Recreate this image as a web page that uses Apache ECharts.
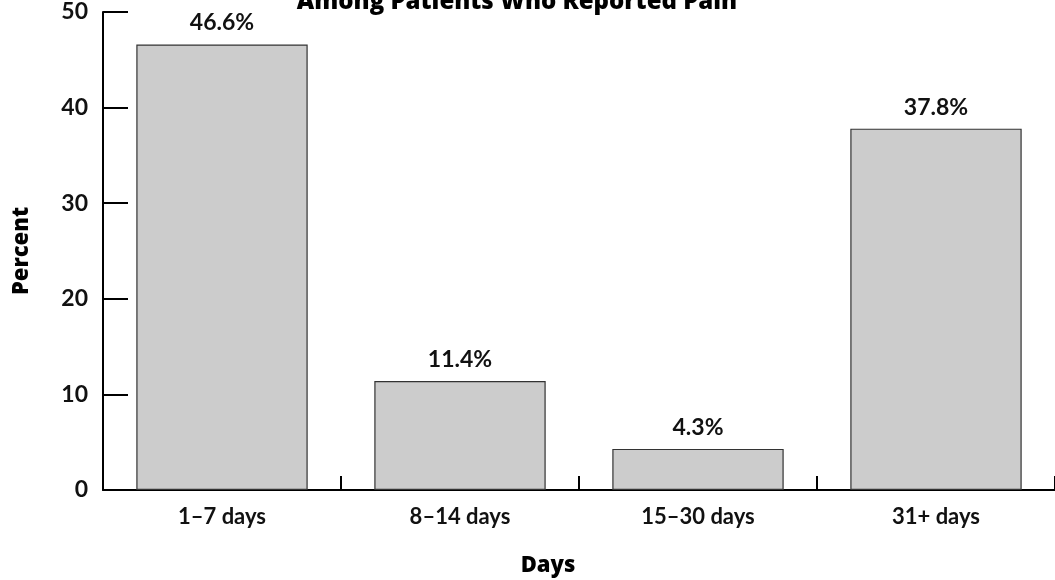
<!DOCTYPE html>
<html><head><meta charset="utf-8">
<script src="https://cdn.jsdelivr.net/npm/echarts@6/dist/echarts.min.js"></script>
<style>html,body{margin:0;padding:0;background:#fff}#c{width:1055px;height:580px}</style>
</head><body><div id="c"></div>
<script>
const categories = ['1–7 days', '8–14 days', '15–30 days', '31+ days'];
const percentValues = [46.6, 11.4, 4.3, 37.8];
const yTicks = [0, 10, 20, 30, 40, 50];
const titleText = 'Among Patients Who Reported Pain';

const FONT = '"Open Sans", "Noto Sans", sans-serif';
const LBL = '"Lato", "Open Sans", sans-serif';
const chart = echarts.init(document.getElementById('c'));
chart.setOption({
  animation: false,
  title: {
    text: titleText, left: 512, top: -15, textAlign: 'center',
    textStyle: { fontFamily: FONT, fontWeight: 800, fontSize: 24, color: '#000' }
  },
  grid: { left: 103, top: 12, width: 956, height: 478, containLabel: false },
  xAxis: {
    type: 'category', data: categories,
    axisLine: { lineStyle: { color: '#000', width: 2 } },
    axisTick: { show: true, inside: true, length: 14, lineStyle: { color: '#000', width: 2 } },
    axisLabel: { fontFamily: LBL, fontWeight: 'bold', fontSize: 22, color: '#111', margin: 16 }
  },
  yAxis: {
    type: 'value', min: 0, max: 50, interval: 10,
    name: 'Percent', nameLocation: 'middle', nameGap: 70, nameRotate: 90,
    nameTextStyle: { fontFamily: FONT, fontWeight: 800, fontSize: 22, color: '#000' },
    axisLine: { show: true, lineStyle: { color: '#000', width: 2 } },
    axisTick: { show: true, inside: true, length: 25, lineStyle: { color: '#000', width: 2 } },
    axisLabel: { fontFamily: LBL, fontWeight: 'bold', fontSize: 23, color: '#111', margin: 15,
      formatter: v => yTicks.includes(v) ? String(v) : '' },
    splitLine: { show: false }
  },
  graphic: [
    { type: 'text', x: 548, y: 566, style: { text: 'Days', align: 'center', verticalAlign: 'middle', fontFamily: FONT, fontWeight: 800, fontSize: 22, fill: '#000' } }
  ],
  series: [{
    type: 'bar', data: percentValues, barWidth: '72%',
    itemStyle: { color: '#cccccc', borderColor: '#333', borderWidth: 1.2 },
    label: { show: true, position: 'top', distance: 10, fontFamily: LBL, fontWeight: 'bold', fontSize: 23, color: '#111',
      formatter: p => p.value.toFixed(1) + '%' }
  }]
});
</script></body></html>
